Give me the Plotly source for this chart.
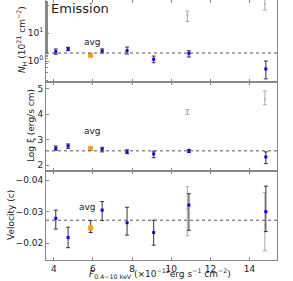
import plotly.graph_objects as go
from plotly.subplots import make_subplots

# ---- data ----
flux = [4.1, 4.73, 6.47, 7.74, 9.1, 10.9, 14.83]
nh = [2.15, 2.7, 2.27, 2.33, 1.15, 1.88, 0.52]
nh_hi = [2.7, 3.1, 2.7, 3.16, 1.5, 2.33, 1.0]
nh_lo = [1.74, 2.33, 1.93, 1.78, 0.87, 1.39, 0.23]

logxi = [2.66, 2.75, 2.62, 2.52, 2.44, 2.56, 2.32]
logxi_hi = [2.75, 2.83, 2.70, 2.60, 2.55, 2.62, 2.52]
logxi_lo = [2.58, 2.66, 2.52, 2.45, 2.29, 2.49, 2.06]

vel = [-0.0279, -0.0218, -0.0305, -0.0265, -0.0234, -0.0321, -0.0300]
vel_hi = [-0.0245, -0.0186, -0.0272, -0.0226, -0.0194, -0.0241, -0.0237]
vel_lo = [-0.0305, -0.0251, -0.0332, -0.0314, -0.0273, -0.0357, -0.0381]

flux_alt = [10.82, 14.78]
nh_alt = [43, 106]
nh_alt_hi = [61, 170]
nh_alt_lo = [26, 66]
logxi_alt = [4.09, 4.58]
logxi_alt_hi = [4.18, 4.91]
logxi_alt_lo = [3.98, 4.37]
vel_alt = [-0.0309, -0.0256]
vel_alt_hi = [-0.0224, -0.0176]
vel_alt_lo = [-0.0379, -0.0361]

avg_flux = [5.88]
avg_nh = [1.6]
avg_logxi = [2.65]
avg_vel = [-0.0249]
avg_vel_hi = [-0.0234]
avg_vel_lo = [-0.0272]

avg_line_nh = 1.93
avg_line_logxi = 2.56
avg_line_vel = -0.0273

FONT = "DejaVu Sans"
AX = "#888888"
DARK = "#333333"
GRAY = "#aaaaaa"
ORANGE = "#ff9f1c"
TXT = "#222222"

fig = make_subplots(rows=3, cols=1, shared_xaxes=True, vertical_spacing=0,
                    row_heights=[82, 89, 89])


def errs(v, hi, lo):
    return ([h - x for x, h in zip(v, hi)], [x - l for x, l in zip(v, lo)])


panels = [
    (nh, nh_hi, nh_lo, nh_alt, nh_alt_hi, nh_alt_lo),
    (logxi, logxi_hi, logxi_lo, logxi_alt, logxi_alt_hi, logxi_alt_lo),
    (vel, vel_hi, vel_lo, vel_alt, vel_alt_hi, vel_alt_lo),
]
avgs = [avg_nh, avg_logxi, avg_vel]
lines = [avg_line_nh, avg_line_logxi, avg_line_vel]

for i, (v, hi, lo, va, vah, val) in enumerate(panels):
    r = i + 1
    ap, am = errs(va, vah, val)
    fig.add_trace(go.Scatter(
        x=flux_alt, y=va, mode="markers",
        marker=dict(color=GRAY, size=2),
        error_y=dict(type="data", array=ap, arrayminus=am, color=GRAY,
                     thickness=1, width=2),
        showlegend=False), row=r, col=1)
    p, m = errs(v, hi, lo)
    fig.add_trace(go.Scatter(
        x=flux, y=v, mode="markers",
        marker=dict(color="blue", size=3, symbol="square"),
        error_y=dict(type="data", array=p, arrayminus=m, color=DARK,
                     thickness=1, width=2),
        showlegend=False), row=r, col=1)
    if r == 3:
        ep, em = errs(avg_vel, avg_vel_hi, avg_vel_lo)
        err = dict(type="data", array=ep, arrayminus=em, color=DARK,
                   thickness=1, width=2)
    else:
        err = None
    fig.add_trace(go.Scatter(
        x=avg_flux, y=avgs[i], mode="markers",
        marker=dict(color=ORANGE, size=5, symbol="square"),
        error_y=err, showlegend=False), row=r, col=1)
    fig.add_hline(y=lines[i], line=dict(color="#555555", width=1, dash="dot"),
                  row=r, col=1)

xcommon = dict(range=[3.6, 15.4], tickvals=[4, 6, 8, 10, 12, 14],
               ticks="inside", ticklen=3, tickcolor=AX, showline=True,
               linecolor=AX, linewidth=1, mirror="ticks", showgrid=False,
               zeroline=False, automargin=False,
               tickfont=dict(family=FONT, size=9, color=TXT))
for r in (1, 2, 3):
    fig.update_xaxes(**xcommon, showticklabels=(r == 3), row=r, col=1)

ycommon = dict(ticks="inside", ticklen=3, tickcolor=AX, showline=True,
               linecolor=AX, linewidth=1, mirror=True, showgrid=False,
               zeroline=False, automargin=False,
               tickfont=dict(family=FONT, size=9, color=TXT))
fig.update_yaxes(**ycommon, type="log", range=[-0.75, 2.18],
                 tickvals=[1, 10, 100],
                 ticktext=["10<sup>0</sup>", "10<sup>1</sup>", "10<sup>2</sup>"],
                 minor=dict(ticks="inside", ticklen=2, tickcolor=AX),
                 row=1, col=1)
fig.update_yaxes(**ycommon, range=[1.77, 5.26], tickvals=[2, 3, 4, 5],
                 row=2, col=1)
fig.update_yaxes(**ycommon, range=[-0.0147, -0.0429],
                 tickvals=[-0.04, -0.03, -0.02],
                 ticktext=["\u22120.04", "\u22120.03", "\u22120.02"],
                 row=3, col=1)

# avg labels
afont = dict(family=FONT, size=9, color=TXT)
fig.add_annotation(x=5.96, y=0.68, xref="x", yref="y", text="avg",
                   showarrow=False, font=afont)
fig.add_annotation(x=5.96, y=3.34, xref="x2", yref="y2", text="avg",
                   showarrow=False, font=afont)
fig.add_annotation(x=5.71, y=-0.0315, xref="x3", yref="y3", text="avg",
                   showarrow=False, font=afont)

W, H = 293, 281
L, R, T, B = 46, 16, 0, 21
pw, ph = W - L - R, H - T - B


def px(x):
    return (x - L) / pw


def py(y):
    return (H - B - y) / ph


fig.add_annotation(x=px(80), y=py(8), xref="paper", yref="paper",
                   xanchor="center", yanchor="middle",
                   text="Emission", showarrow=False,
                   font=dict(family=FONT, size=13, color=TXT))
ytitles = [("<i>N</i><sub>H</sub> (10<sup>21</sup> cm<sup>\u22122</sup>)", 21, 40),
           ("Log \u03be (erg/s cm)", 31, 126),
           ("Velocity (c)", 11, 215)]
for t, x, y in ytitles:
    fig.add_annotation(x=px(x), y=py(y), xref="paper", yref="paper", text=t,
                       xanchor="center", yanchor="middle",
                       textangle=-90, showarrow=False, font=afont)
fig.add_annotation(x=px(160), y=py(273), xref="paper", yref="paper",
                   xanchor="center", yanchor="middle",
                   text="<i>F</i><sub>0.4\u221210 keV</sub> (\u00d710<sup>\u221212</sup>erg s<sup>\u22121</sup> cm<sup>\u22122</sup>)",
                   showarrow=False, font=afont)

fig.update_layout(template="none", width=W, height=H,
                  margin=dict(l=L, r=R, t=T, b=B, autoexpand=False),
                  plot_bgcolor="white", paper_bgcolor="white",
                  font=dict(family=FONT, size=9))

fig.write_html("out.html", config={"displayModeBar": False},
               post_script="document.body.style.margin='0';"
                           "document.body.style.overflow='hidden';")
